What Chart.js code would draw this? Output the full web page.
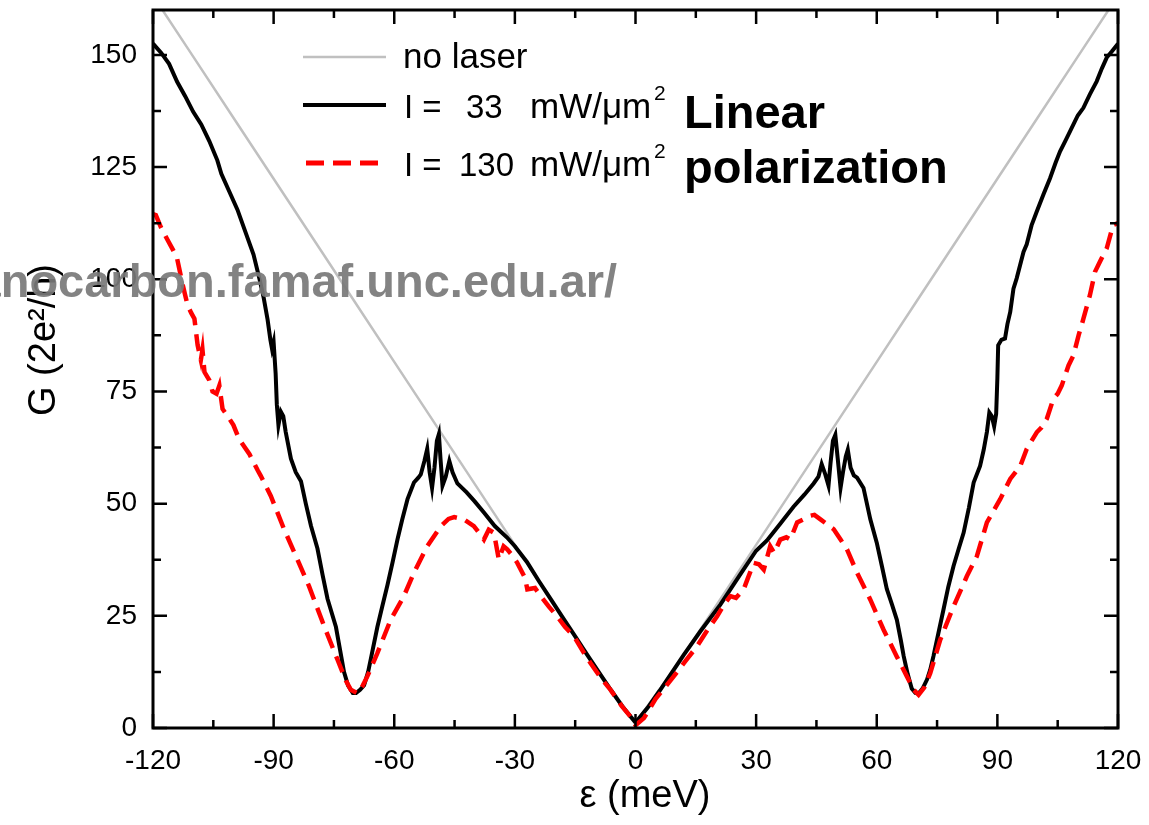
<!DOCTYPE html>
<html>
<head>
<meta charset="utf-8">
<script src="https://cdn.jsdelivr.net/npm/chart.js@4"></script>
<style>
  body { margin: 0; background: #fff; }
  canvas { display: block; }
</style>
</head>
<body>
<canvas id="myChart" width="1149" height="825"></canvas>
<script>
// x tick marks / labels
const xTicks = [-120, -90, -60, -30, 0, 30, 60, 90, 120];
const yTicks = [0, 25, 50, 75, 100, 125, 150];

// no laser (grey)
const noLaserE = [-120, -110, -100, -90, -80, -70, -60, -50, -40, -30, -20, -10, 0,
                  10, 20, 30, 40, 50, 60, 70, 80, 90, 100, 110, 120];
const noLaserG = [163.2, 149.6, 136, 122.4, 108.8, 95.2, 81.6, 68, 54.4, 40.8, 27.2, 13.6, 1.2,
                  13.6, 27.2, 40.8, 54.4, 68, 81.6, 95.2, 108.8, 122.4, 136, 149.6, 163.2];

// I = 33 mW/um2 (black)
const lowE = [-120, -118, -116, -114, -112, -110, -108, -106, -104, -103, -101, -99, -97, -95,
  -93.5, -92.5, -91.5, -90.8, -90.4, -90, -89.5, -89.2, -88.8, -88.2, -87.6, -87, -85.7, -84.5,
  -83.2, -82, -80.7, -79.1, -77.8, -76.6, -74.5, -73.5, -72.5, -71.5, -70.3, -69.5, -68.5, -67.5,
  -66.5, -65.8, -64.2, -63, -61.7, -60.4, -59.2, -58, -56.7, -55.1, -54, -53.4, -52.5, -51.8,
  -51.2, -50.6, -50, -49.4, -48.9, -48.5, -48, -47.2, -46.3, -45.5, -44.3, -42, -40, -37.7, -35,
  -32, -30, -27, -24, -21, -18, -15, -12, -9, -6, -3, 0,
  3, 6, 9, 12, 16.1, 21.1, 26.1, 30, 32.7, 36, 39.3, 42, 44.3, 45.5, 46.3, 47.2, 48, 48.5, 49.1,
  49.7, 50.3, 51, 51.6, 52.3, 52.8, 53.5, 54.3, 55.1, 56.7, 58.4, 60, 61.3, 62.5, 63.8, 65, 66,
  66.7, 67.7, 68.7, 69.6, 70.4, 71.4, 72.5, 73.3, 74.1, 75.3, 76.6, 77.8, 79.1, 80.4, 81.6, 82.9,
  84.1, 85.7, 86.6, 87.4, 88, 88.6, 89.2, 89.7, 90, 90.2, 91, 91.9, 92.5, 93.2, 94, 94.8, 96.5,
  97.3, 98.5, 99.8, 101.5, 103.1, 104.5, 105.6, 107, 108.1, 110, 111.4, 113, 114.7, 116, 117.2,
  118.5, 120];
const lowG = [152.5, 150.5, 148, 144, 140.8, 137.3, 134.5, 130.8, 126.5, 123.5, 119.5, 115.5, 110.5, 105.5,
  100, 96, 91, 86.5, 84.5, 86, 79, 72, 67.5, 70.5, 69.5, 66, 60, 57,
  55, 50, 45, 40, 34, 28.8, 22.5, 17.5, 12.5, 9.5, 7.8, 7.8, 8.5, 9.5,
  12.5, 15.5, 22.5, 27, 31.8, 37, 42, 46.5, 51, 54.7, 55.8, 56.5, 59.5, 62.2,
  57, 53.5, 58, 64, 65.5, 60, 54, 56, 59.5, 57, 54.5, 52.5, 50.5, 48, 45,
  42.5, 40.5, 37, 32.7, 28.6, 24.5, 20.4, 16.3, 12.3, 8.3, 4.5, 1.2,
  4.5, 8.3, 12.3, 16.3, 21.5, 27.5, 34.3, 39.5, 41.8, 45.5, 49.3, 52, 54.5, 56, 58.8, 56.5, 54, 59, 64,
  65.3, 60, 53.5, 57, 60.5, 62, 58, 56.3, 55.8, 53.5, 46.5, 41.3, 36, 31, 27.5, 24.1, 19.5,
  16, 12, 8.8, 7.8, 7.7, 8.8, 10.8, 13, 16, 21, 26.4, 31.5, 36.1, 40, 43.5, 49,
  54.7, 58.4, 62, 66, 70.3, 69.5, 67.2, 70, 78, 85.3, 86.5, 86.8, 90, 92.7, 97.9, 100.2, 106.1,
  107.8, 112, 115.1, 119, 122.5, 126, 128.5, 131, 133, 136.5, 138.2, 141.2, 144.1, 147, 149.4,
  150.8, 152.5];

// I = 130 mW/um2 (red dashed)
const highE = [-120, -119.3, -118, -116.4, -115, -114, -112.6, -111.4, -110.5, -109.7, -108.9, -108.1,
  -107.7, -107.2, -106, -105.2, -104.2, -103.5, -102.7, -101.5, -100, -98.6, -96, -94, -93.2, -90.7,
  -87.4, -84.1, -81.2, -77.4, -74.1, -72, -70.8, -69.1, -67.8, -66.7, -64.2, -60.9, -57.6, -55.1,
  -51.8, -48.4, -46.5, -45.1, -42.7, -40.2, -38.5, -37.7, -36.5, -35.2, -34, -32.8, -31.9, -30.5,
  -29.4, -27.5, -26.9, -25, -23.6, -21.5, -19.5, -17.5, -15.3, -13, -11.2, -8.5, -6.2, -3.5, -1.2, 0,
  2.1, 5, 7.3, 9.5, 12.5, 15.3, 18, 20.3, 22, 23.6, 25, 26.9, 28, 29.4, 30.7, 31.9, 33.5, 34.5, 36,
  37.5, 38.5, 40.2, 41.8, 43.5, 44.5, 46, 47.5, 49.3, 51, 52.6, 55.1, 58.4, 61.7, 65, 67.5, 69.2,
  70.4, 71.8, 73.3, 75.8, 79.1, 82.4, 84.9, 87.4, 90.7, 93.2, 95.7, 97.3, 99.8, 101, 102.3, 103.9,
  105, 106, 107.7, 108.9, 110.2, 111.4, 113, 114.3, 115.5, 117.2, 118.8, 120];
const highG = [114.5, 114.3, 111.5, 108.8, 106.5, 104.6, 98.7, 94.2, 92.5, 91.2, 85.3, 82,
  84.3, 79.3, 77.5, 75, 74.5, 76.3, 71.1, 69.6, 67.5, 64.4, 61, 57.5, 56.2, 51.7,
  44.3, 37.6, 31.6, 22.6, 15.2, 10.5, 8.5, 7.7, 9.5, 11.5, 16.7, 24.1, 29.4, 34.6,
  40.5, 45, 46.6, 47, 46.5, 45, 43, 42, 44.2, 43.5, 37.6, 40.5, 39.8, 38.3,
  36.8, 33.5, 30.9, 31.2, 29.4, 27, 24.9, 22.5, 20.4, 17, 14.5, 11, 8.5, 5, 2.5, 0.6,
  2.2, 6.5, 9, 11.5, 15, 18.2, 22, 24.9, 27.5, 29.4, 29, 30.9, 33.5, 36.8, 36.5, 35.3, 40.5, 39, 42,
  42.5, 42, 45.8, 46.5, 47.3, 47.5, 46.5, 45.5, 44.3, 42, 39.8, 34.6, 28.6, 21.9, 15.9, 11.5, 8.5,
  7.4, 9, 12.2, 19.7, 27.1, 33.8, 38.3, 45.8, 51, 55.5, 58.4, 62.2, 65.9, 67, 68.9, 73.3,
  74.5, 76.3, 80.8, 83, 87.5, 91.2, 96.4, 101.7, 103.9, 106.9, 112.1, 112.5];

const FONT = '"Liberation Sans", Arial, Helvetica, sans-serif';

function pts(e, g) {
    return e.map((v, i) => ({ x: v, y: g[i] }));
}

// frame, inward ticks, legend, labels, watermark
const decor = {
    id: 'decor',
    afterDatasetsDraw(chart) {
        const ctx = chart.ctx;
        const a = chart.chartArea;
        const xs = chart.scales.x, ys = chart.scales.y;
        ctx.save();
        ctx.strokeStyle = '#000';
        ctx.lineWidth = 2.5;
        // ticks on all four sides, pointing in
        for (let v = -120; v <= 120; v += 15) {
            const px = xs.getPixelForValue(v);
            const len = v % 30 === 0 ? 14 : 8;
            ctx.beginPath();
            ctx.moveTo(px, a.bottom); ctx.lineTo(px, a.bottom - len);
            ctx.moveTo(px, a.top); ctx.lineTo(px, a.top + len);
            ctx.stroke();
        }
        for (let v = 0; v <= 160; v += 12.5) {
            const py = ys.getPixelForValue(v);
            const len = v % 25 === 0 ? 14 : 8;
            ctx.beginPath();
            ctx.moveTo(a.left, py); ctx.lineTo(a.left + len, py);
            ctx.moveTo(a.right, py); ctx.lineTo(a.right - len, py);
            ctx.stroke();
        }
        ctx.lineWidth = 3;
        ctx.strokeRect(a.left, a.top, a.right - a.left, a.bottom - a.top);
        ctx.restore();
    },
    afterDraw(chart) {
        const ctx = chart.ctx;
        ctx.save();
        // legend
        ctx.lineCap = 'butt';
        ctx.strokeStyle = '#c0c0c0'; ctx.lineWidth = 2.5;
        ctx.beginPath(); ctx.moveTo(303, 57); ctx.lineTo(386, 57); ctx.stroke();
        ctx.strokeStyle = '#000'; ctx.lineWidth = 4;
        ctx.beginPath(); ctx.moveTo(303, 105); ctx.lineTo(386, 105); ctx.stroke();
        ctx.strokeStyle = '#ff0000'; ctx.lineWidth = 5; ctx.setLineDash([18, 9]);
        ctx.beginPath(); ctx.moveTo(306, 163); ctx.lineTo(383, 163); ctx.stroke();
        ctx.setLineDash([]);

        ctx.fillStyle = '#000';
        ctx.textBaseline = 'alphabetic';
        ctx.textAlign = 'left';
        ctx.font = '35px ' + FONT;
        ctx.fillText('no laser', 403, 68);
        ctx.font = '33px ' + FONT;
        ctx.fillText('I =', 404, 118);
        ctx.fillText('33', 466, 118);
        ctx.fillText('I =', 404, 176);
        ctx.fillText('130', 459, 176);
        ctx.font = '35px ' + FONT;
        ctx.fillText('mW/\u03BCm', 530, 118);
        ctx.fillText('mW/\u03BCm', 530, 176);
        ctx.font = '21px ' + FONT;
        ctx.fillText('2', 654, 100);
        ctx.fillText('2', 654, 158);

        ctx.font = 'bold 47px ' + FONT;
        ctx.fillText('Linear', 684, 128);
        ctx.fillText('polarization', 684, 183);

        // axis titles
        ctx.font = '38px ' + FONT;
        ctx.textAlign = 'center';
        ctx.textBaseline = 'middle';
        ctx.fillText('\u03B5 (meV)', 645, 797);
        ctx.translate(45, 340);
        ctx.rotate(-Math.PI / 2);
        ctx.fillText('G (2e\u00B2/h)', 0, 0);
        ctx.restore();

        // watermark
        ctx.save();
        ctx.font = 'bold 47px ' + FONT;
        ctx.fillStyle = 'rgba(120,120,120,0.92)';
        ctx.textAlign = 'right';
        ctx.textBaseline = 'alphabetic';
        ctx.fillText('nanocarbon.famaf.unc.edu.ar/', 617, 297);
        ctx.restore();
    }
};

new Chart(document.getElementById('myChart'), {
    type: 'scatter',
    data: {
        datasets: [
            {
                label: 'no laser',
                data: pts(noLaserE, noLaserG),
                showLine: true,
                borderColor: '#c0c0c0',
                borderWidth: 2.5,
                pointRadius: 0,
                order: 3
            },
            {
                label: 'I = 33 mW/\u03BCm\u00B2',
                data: pts(lowE, lowG),
                showLine: true,
                borderColor: '#000',
                borderWidth: 4,
                pointRadius: 0,
                order: 2
            },
            {
                label: 'I = 130 mW/\u03BCm\u00B2',
                data: pts(highE, highG),
                showLine: true,
                borderColor: '#ff0000',
                borderWidth: 4.5,
                borderDash: [17, 9],
                pointRadius: 0,
                order: 1
            }
        ]
    },
    options: {
        responsive: false,
        animation: false,
        layout: { padding: { top: 10, right: 31, bottom: 0, left: 0 } },
        plugins: {
            legend: { display: false },
            tooltip: { enabled: false }
        },
        scales: {
            x: {
                type: 'linear',
                min: -120,
                max: 120,
                afterBuildTicks: (s) => { s.ticks = xTicks.map(v => ({ value: v })); },
                afterFit: (s) => {
                    s.height = 97;
                    s.paddingLeft = 0;
                    s.paddingRight = 0;
                },
                grid: { display: false, drawTicks: false },
                border: { display: false },
                ticks: {
                    padding: 16,
                    color: '#000',
                    font: { family: FONT, size: 28 },
                    maxRotation: 0,
                    autoSkip: false
                }
            },
            y: {
                type: 'linear',
                min: 0,
                max: 160,
                afterBuildTicks: (s) => { s.ticks = yTicks.map(v => ({ value: v })); },
                afterFit: (s) => {
                    s.width = 153;
                    s.paddingTop = 0;
                    s.paddingBottom = 0;
                },
                grid: { display: false, drawTicks: false },
                border: { display: false },
                ticks: {
                    padding: 16,
                    color: '#000',
                    font: { family: FONT, size: 28 },
                    autoSkip: false
                }
            }
        }
    },
    plugins: [decor]
});
</script>
</body>
</html>
